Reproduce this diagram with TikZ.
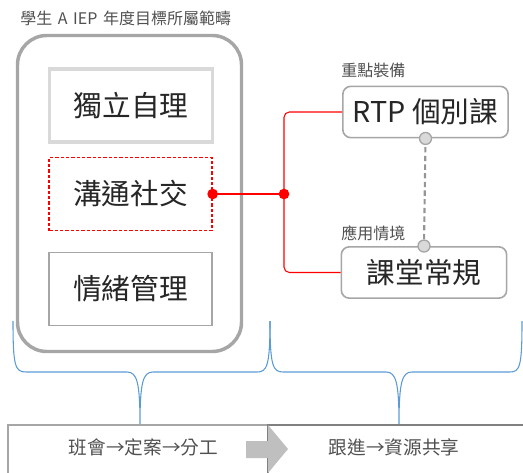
\documentclass[tikz,border=0pt]{standalone}
\usepackage{fontspec}
\setmainfont{Noto Sans CJK TC}
\usetikzlibrary{positioning}

\definecolor{linegray}{HTML}{A6A6A6}
\definecolor{palegray}{HTML}{D9D9D9}
\definecolor{bracecol}{HTML}{5B9BD5}
\definecolor{textgray}{HTML}{505050}

\begin{document}
\begin{tikzpicture}[x=0.75pt,y=-0.75pt,
    goal/.style={rectangle, minimum width=122pt, minimum height=55pt, font=\fontsize{21.5}{24}\selectfont, text=black!85},
    tool/.style={rectangle, rounded corners=6pt, draw=linegray, line width=1.2pt, fill=white, minimum width=124pt, minimum height=38.5pt, font=\fontsize{21.5}{24}\selectfont, text=black!85},
    tag/.style={font=\fontsize{12}{14}\selectfont, text=textgray, inner sep=0pt},
    wire/.style={red, line width=0.8pt},
    dot/.style={circle, fill=red, inner sep=0pt, minimum size=8pt},
    knob/.style={circle, fill=palegray, draw=linegray, line width=1pt, inner sep=0pt, minimum size=9pt},
    stage/.style={font=\fontsize{14}{16}\selectfont, text=textgray, inner sep=0pt},
    brace/.style={bracecol, line width=0.8pt}]
\useasboundingbox (0,0) rectangle (523,473);

\node[anchor=west, inner sep=0pt, font=\fontsize{12}{14}\selectfont, text=textgray] (title) at (20,18) {學生\hspace{0.35em}A\hspace{0.35em}IEP\hspace{0.35em}年度目標所屬範疇};

% goal domains
\node[draw=linegray, line width=2.6pt, rounded corners=22pt, minimum width=168pt, minimum height=237pt] (domain) at (129.5,193.5) {};
\node[goal, draw=palegray, line width=2.6pt] (goal_1) at (131,105.5) {獨立自理};
\node[goal, draw=red, dash pattern=on 2.5pt off 1.5pt, line width=1.2pt] (goal_2) at (130.5,194) {溝通社交};
\node[goal, draw=linegray, line width=1.1pt] (goal_3) at (130.5,289) {情緒管理};

% support
\node[tool] (rtp) at (425.5,112) {RTP 個別課};
\node[tool] (routine) at (424,272.5) {課堂常規};
\node[tag, anchor=west] (tag_rtp) at (341,70) {重點裝備};
\node[tag, anchor=west] (tag_routine) at (341,233) {應用情境};

\coordinate (hub) at (284,194);
\draw[wire] (goal_2.east) -- (hub);
\draw[wire, rounded corners=4pt] (rtp.west) -| (hub) |- (routine.west);
\node[dot] (pin) at (goal_2.east) {};
\node[dot] (hubdot) at (hub) {};

\draw[linegray!90!black, dash pattern=on 4pt off 2.5pt, line width=1.6pt] (rtp.south) -- (routine.north);
\node[knob] (knob_top) at (rtp.south) {};
\node[knob] (knob_bot) at (routine.north) {};

% braces
\draw[brace] (13,321) .. controls (13,366) and (15,372) .. (26,372) -- (127,372)
    .. controls (137,372) and (140,382) .. (140,425) .. controls (140,382) and (143,372) .. (153,372)
    -- (257,372) .. controls (267,372) and (270,366) .. (270,321);
\draw[brace] (270,321) .. controls (270,366) and (273,372) .. (283,372) -- (386,372)
    .. controls (396,372) and (399,382) .. (399,425) .. controls (399,382) and (402,372) .. (412,372)
    -- (510,372) .. controls (520,372) and (522,366) .. (522,321);

% process
\draw[linegray, line width=1.2pt] (8,474) |- (268,425);
\draw[gray, line width=1.2pt] (268,474) |- (524,425);
\fill[gray!50] (246,441) -- (268,441) -- (268,425) -- (288,449) -- (268,473) -- (268,458) -- (246,458) -- cycle;
\node[stage] (stage_1) at (143.5,447) {班會→定案→分工};
\node[stage] (stage_2) at (394,447) {跟進→資源共享};
\end{tikzpicture}
\end{document}
